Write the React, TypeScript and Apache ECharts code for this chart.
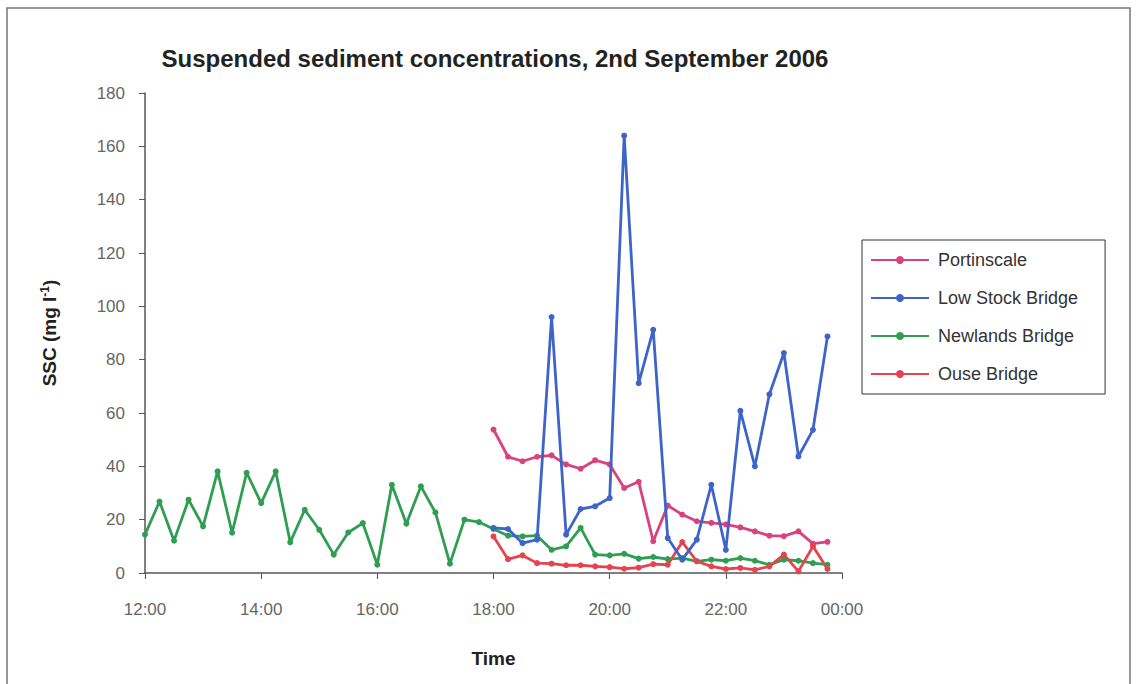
import React, { useEffect, useRef } from "react";
import * as echarts from "echarts";

const title = "Suspended sediment concentrations, 2nd September 2006";
const xTickLabels = ["12:00", "14:00", "16:00", "18:00", "20:00", "22:00", "00:00"];

// sampling times (15-minute readings)
const timesDay = [
  "12:00", "12:15", "12:30", "12:45", "13:00", "13:15", "13:30", "13:45",
  "14:00", "14:15", "14:30", "14:45", "15:00", "15:15", "15:30", "15:45",
  "16:00", "16:15", "16:30", "16:45", "17:00", "17:15", "17:30", "17:45",
];
const timesEvening = [
  "18:00", "18:15", "18:30", "18:45", "19:00", "19:15", "19:30", "19:45",
  "20:00", "20:15", "20:30", "20:45", "21:00", "21:15", "21:30", "21:45",
  "22:00", "22:15", "22:30", "22:45", "23:00", "23:15", "23:30", "23:45",
];

const portinscale = [
  53.8, 43.6, 41.9, 43.6, 44.1, 40.7, 39.1, 42.3, 40.7, 31.9, 34.2, 11.9,
  25.3, 21.9, 19.4, 18.8, 18.2, 17.1, 15.6, 14.0, 13.8, 15.6, 11.0, 11.7,
];
const lowStockBridge = [
  16.9, 16.5, 11.2, 12.5, 96.0, 14.4, 24.0, 25.0, 28.1, 164.0, 71.2, 91.2,
  13.1, 5.0, 12.5, 33.1, 8.7, 60.8, 40.0, 67.0, 82.5, 43.7, 53.7, 88.7,
];
const newlandsBridgeDay = [
  14.4, 26.8, 12.1, 27.5, 17.5, 38.1, 15.1, 37.6, 26.2, 38.1, 11.5, 23.7,
  16.2, 6.9, 15.2, 18.7, 3.1, 33.1, 18.5, 32.5, 22.7, 3.5, 20.0, 19.1,
];
const newlandsBridgeEvening = [
  16.5, 14.0, 13.7, 14.0, 8.7, 10.0, 16.9, 6.9, 6.6, 7.2, 5.4, 6.0,
  5.2, 5.6, 4.4, 5.0, 4.6, 5.6, 4.6, 3.1, 5.0, 4.6, 3.7, 3.1,
];
const ouseBridge = [
  13.7, 5.2, 6.6, 3.7, 3.5, 2.9, 2.9, 2.5, 2.2, 1.6, 2.0, 3.3,
  3.1, 11.6, 4.4, 2.5, 1.5, 1.9, 1.2, 2.5, 6.9, 0.6, 10.0, 1.5,
];

const seriesNames = ["Portinscale", "Low Stock Bridge", "Newlands Bridge", "Ouse Bridge"];
const seriesColors = ["#d8437f", "#3f64c9", "#2f9e52", "#e6434f"];

const toHours = (t: string) => {
  const [h, m] = t.split(":").map(Number);
  return h + m / 60;
};
const pairs = (times: string[], vals: number[]) => vals.map((v, i) => [toHours(times[i]), v]);

export default function App() {
  const ref = useRef<HTMLDivElement>(null);
  useEffect(() => {
    if (!ref.current) return;
    const chart = echarts.init(ref.current, null, { renderer: "svg" });
    const font = "'Liberation Sans', Arial, sans-serif";
    const datasets = [
      pairs(timesEvening, portinscale),
      pairs(timesEvening, lowStockBridge),
      pairs([...timesDay, ...timesEvening], [...newlandsBridgeDay, ...newlandsBridgeEvening]),
      pairs(timesEvening, ouseBridge),
    ];
    chart.setOption({
      animation: false,
      backgroundColor: "#ffffff",
      textStyle: { fontFamily: font },
      title: {
        text: title,
        left: 490,
        textAlign: "center",
        top: 41,
        textStyle: { fontFamily: font, fontSize: 24, fontWeight: "bold", color: "#222" },
      },
      graphic: [
        {
          type: "rect",
          shape: { x: 7, y: 8, width: 1123, height: 700 },
          style: { fill: "none", stroke: "#777", lineWidth: 1.5 },
          silent: true,
          z: -1,
        },
      ],
      legend: {
        orient: "vertical",
        left: 862,
        top: 240,
        data: seriesNames,
        itemWidth: 58,
        itemHeight: 10,
        itemGap: 20,
        padding: [11, 27, 11, 8],
        borderColor: "#333",
        borderWidth: 1,
        textStyle: { fontFamily: font, fontSize: 18, color: "#333", padding: [0, 0, 0, 4] },
      },
      grid: { left: 145, top: 93, width: 697, height: 480 },
      xAxis: {
        type: "value",
        min: 12,
        max: 24,
        interval: 2,
        name: "Time",
        nameLocation: "middle",
        nameGap: 76,
        nameTextStyle: { fontFamily: font, fontSize: 19, fontWeight: "bold", color: "#222" },
        axisLine: { lineStyle: { color: "#555", width: 1.5 } },
        axisTick: { show: true, length: 6, lineStyle: { color: "#555" } },
        splitLine: { show: false },
        axisLabel: {
          fontFamily: font,
          fontSize: 17,
          color: "#666",
          margin: 28,
          formatter: (v: number) => xTickLabels[Math.round((v - 12) / 2)] ?? "",
        },
      },
      yAxis: {
        type: "value",
        min: 0,
        max: 180,
        interval: 20,
        name: "{a|SSC (mg l}{s|-1}{a|)}",
        nameLocation: "middle",
        nameGap: 86,
        nameRotate: 90,
        nameTextStyle: {
          rich: {
            a: { fontFamily: font, fontSize: 19, fontWeight: "bold", color: "#222" },
            s: { fontFamily: font, fontSize: 12, fontWeight: "bold", color: "#222", verticalAlign: "top", padding: [0, 0, 8, 0] },
          },
        },
        axisLine: { show: true, lineStyle: { color: "#555", width: 1.5 } },
        axisTick: { show: true, length: 6, lineStyle: { color: "#555" } },
        splitLine: { show: false },
        axisLabel: { fontFamily: font, fontSize: 17, color: "#666", margin: 20 },
      },
      series: seriesNames.map((name, i) => ({
        name,
        type: "line",
        data: datasets[i],
        color: seriesColors[i],
        symbol: "circle",
        symbolSize: 6,
        lineStyle: { width: 2.8, color: seriesColors[i] },
        itemStyle: { color: seriesColors[i] },
        z: i === 1 ? 3 : 2,
      })),
    });
    return () => chart.dispose();
  }, []);
  return (
    <div
      ref={ref}
      style={{ position: "fixed", left: 0, top: 0, width: 1137, height: 684 }}
    />
  );
}
